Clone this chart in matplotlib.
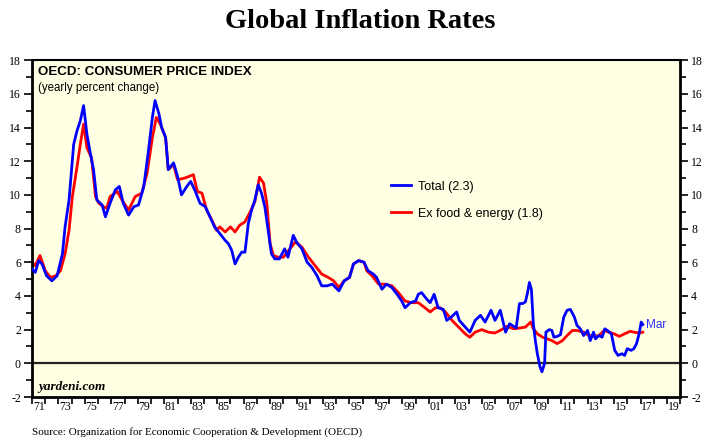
import numpy as np
import matplotlib
matplotlib.use('Agg')
import matplotlib.pyplot as plt
from matplotlib.ticker import MultipleLocator, FixedLocator, NullFormatter

plt.rcParams['axes.unicode_minus'] = False

# OECD total CPI, yearly % change
total_t = [1971.0, 1971.25, 1971.5, 1971.75, 1972.1, 1972.5, 1972.9, 1973.3, 1973.5, 1973.8,
           1974.15, 1974.4, 1974.65, 1974.9, 1975.15, 1975.4, 1975.65, 1975.9, 1976.3, 1976.55,
           1976.9, 1977.3, 1977.6, 1977.9, 1978.3, 1978.7, 1979.05, 1979.45, 1979.8, 1980.1,
           1980.3, 1980.6, 1980.8, 1981.1, 1981.3, 1981.7, 1982.0, 1982.3, 1982.7, 1983.0,
           1983.35, 1983.7, 1984.1, 1984.45, 1984.8, 1985.2, 1985.6, 1985.85, 1986.1, 1986.35,
           1986.6, 1986.85, 1987.1, 1987.35, 1987.6, 1987.85, 1988.1, 1988.35, 1988.6, 1988.85,
           1989.1, 1989.35, 1989.7, 1990.1, 1990.35, 1990.75, 1991.0, 1991.4, 1991.8, 1992.15,
           1992.55, 1992.9, 1993.3, 1993.7, 1994.2, 1994.6, 1995.0, 1995.3, 1995.7, 1996.1,
           1996.4, 1996.8, 1997.05, 1997.45, 1997.8, 1998.2, 1998.6, 1998.95, 1999.2, 1999.6,
           2000.0, 2000.2, 2000.45, 2000.85, 2001.1, 2001.4, 2001.7, 2002.1, 2002.35, 2002.7,
           2003.1, 2003.3, 2003.75, 2004.1, 2004.5, 2004.9, 2005.25, 2005.7, 2006.0, 2006.4,
           2006.8, 2007.1, 2007.6, 2007.85, 2008.1, 2008.3, 2008.45, 2008.6, 2008.75, 2008.9,
           2009.05, 2009.2, 2009.4, 2009.55, 2009.75, 2009.85, 2010.1, 2010.3, 2010.45, 2010.7,
           2010.95, 2011.2, 2011.45, 2011.7, 2012.0, 2012.2, 2012.45, 2012.7, 2013.0, 2013.2,
           2013.45, 2013.6, 2013.85, 2014.1, 2014.3, 2014.5, 2014.8, 2015.05, 2015.3, 2015.6,
           2015.8, 2016.0, 2016.3, 2016.5, 2016.7, 2016.9, 2017.05, 2017.17]
total_v = [5.6, 5.4, 6.1, 5.9, 5.2, 4.9, 5.2, 6.5, 8.1, 9.7,
           13.0, 13.8, 14.4, 15.3, 13.6, 12.5, 11.5, 9.7, 9.4, 8.7,
           9.5, 10.3, 10.5, 9.5, 8.8, 9.3, 9.4, 10.5, 12.6, 14.6,
           15.6, 14.8, 14.0, 13.4, 11.5, 11.9, 11.1, 10.0, 10.5, 10.8,
           10.2, 9.5, 9.3, 8.7, 8.1, 7.7, 7.3, 7.1, 6.7, 5.9,
           6.3, 6.6, 6.6, 8.3, 9.1, 9.7, 10.6, 10.1, 9.3, 7.9,
           6.5, 6.2, 6.2, 6.8, 6.3, 7.6, 7.2, 6.8, 6.0, 5.7,
           5.2, 4.6, 4.6, 4.7, 4.3, 4.9, 5.1, 5.9, 6.1, 6.0,
           5.5, 5.3, 5.1, 4.4, 4.7, 4.5, 4.1, 3.7, 3.3, 3.6,
           3.7, 4.1, 4.2, 3.8, 3.6, 4.1, 3.3, 3.2, 2.55, 2.75,
           3.05, 2.55, 2.15, 1.85, 2.55, 2.85, 2.45, 3.15, 2.55, 3.15,
           1.85, 2.35, 2.1, 3.55, 3.55, 3.65, 4.15, 4.8, 4.4, 2.35,
           1.35, 0.57, -0.2, -0.5, 0.0, 1.85, 2.0, 1.95, 1.55, 1.6,
           1.7, 2.75, 3.15, 3.2, 2.75, 2.25, 2.05, 1.65, 1.95, 1.35,
           1.85, 1.45, 1.65, 1.55, 2.05, 1.95, 1.75, 0.77, 0.47, 0.57,
           0.47, 0.87, 0.77, 0.87, 1.17, 1.77, 2.45, 2.3]

# OECD CPI ex food & energy
core_t = [1971.0, 1971.25, 1971.6, 1972.0, 1972.4, 1972.8, 1973.15, 1973.5, 1973.8, 1974.05,
          1974.4, 1974.65, 1974.9, 1975.15, 1975.5, 1975.8, 1976.05, 1976.4, 1976.65, 1976.9,
          1977.45, 1977.8, 1978.3, 1978.8, 1979.3, 1979.7, 1980.1, 1980.4, 1980.7, 1981.1,
          1981.3, 1981.7, 1982.0, 1982.55, 1983.2, 1983.5, 1983.85, 1984.2, 1984.6, 1984.95,
          1985.2, 1985.6, 1986.0, 1986.35, 1986.7, 1987.1, 1987.5, 1987.85, 1988.2, 1988.5,
          1988.75, 1989.0, 1989.25, 1989.6, 1990.0, 1990.4, 1990.9, 1991.4, 1991.9, 1992.4,
          1992.9, 1993.4, 1993.8, 1994.2, 1994.6, 1995.0, 1995.3, 1995.7, 1996.1, 1996.3,
          1996.7, 1997.2, 1997.7, 1998.2, 1998.7, 1999.2, 1999.7, 2000.2, 2000.7, 2001.1,
          2001.5, 2001.85, 2002.25, 2002.75, 2003.25, 2003.75, 2004.1, 2004.5, 2005.0, 2005.5,
          2006.0, 2006.5, 2006.9, 2007.4, 2007.9, 2008.3, 2008.7, 2008.9, 2009.2, 2009.6,
          2009.95, 2010.3, 2010.7, 2011.1, 2011.45, 2011.85, 2012.2, 2012.7, 2013.1, 2013.5,
          2013.85, 2014.25, 2014.6, 2015.0, 2015.4, 2015.8, 2016.2, 2016.5, 2016.9, 2017.17]
core_v = [6.0, 5.8, 6.4, 5.5, 5.1, 5.2, 5.5, 6.5, 7.9, 9.9,
          11.65, 13.0, 14.2, 12.8, 12.2, 9.9, 9.5, 9.3, 9.2, 9.9,
          10.2, 9.7, 9.1, 9.9, 10.1, 11.3, 13.4, 14.6, 14.2, 13.4,
          11.5, 11.8, 10.9, 11.0, 11.2, 10.2, 10.1, 9.1, 8.5, 7.9,
          8.1, 7.8, 8.1, 7.8, 8.2, 8.4, 9.0, 9.6, 11.05, 10.7,
          9.5, 7.1, 6.4, 6.3, 6.3, 6.7, 7.2, 6.9, 6.3, 5.8,
          5.3, 5.1, 4.9, 4.5, 4.9, 5.1, 5.9, 6.1, 6.0, 5.5,
          5.2, 4.7, 4.7, 4.6, 4.2, 3.7, 3.6, 3.6, 3.3, 3.05,
          3.3, 3.3, 3.05, 2.55, 2.15, 1.75, 1.55, 1.85, 2.0, 1.85,
          1.8, 2.0, 2.2, 2.05, 2.1, 2.15, 2.45, 2.05, 1.75, 1.55,
          1.45, 1.35, 1.17, 1.35, 1.65, 1.95, 1.95, 1.85, 1.65, 1.6,
          1.65, 1.95, 1.85, 1.75, 1.6, 1.75, 1.9, 1.85, 1.8, 1.85]

label_years = list(range(1971, 2020, 2))
legend_labels = ['Total (2.3)', 'Ex food & energy (1.8)']

SERIF = 'Liberation Serif'
SANS = 'Liberation Sans'


def draw_chart():
    fig = plt.figure(figsize=(7.21, 4.48), dpi=100)
    ax = fig.add_axes([0.0444, 0.1138, 0.899, 0.752])
    ax.set_facecolor('#ffffe3')

    ax.axhline(0, color='#222222', lw=1.6, zorder=1)
    line_total, = ax.plot(total_t, total_v, color='#0000ff', lw=2, zorder=3)
    line_core, = ax.plot(core_t, core_v, color='#ff0000', lw=2, zorder=2)

    ax.set_xlim(1971, 2020)
    ax.set_ylim(-2, 18)

    # year ticks, labels sit in the middle of each odd year
    ax.xaxis.set_major_locator(MultipleLocator(1))
    ax.xaxis.set_major_formatter(NullFormatter())
    ax.xaxis.set_minor_locator(FixedLocator([y + 0.5 for y in label_years]))
    ax.set_xticklabels([f'{y % 100:02d}' for y in label_years], minor=True)
    ax.tick_params(axis='x', which='major', direction='out', length=5, width=1.2)
    ax.tick_params(axis='x', which='minor', length=0, pad=3)

    ax.yaxis.set_major_locator(MultipleLocator(2))
    ax.yaxis.set_minor_locator(MultipleLocator(1))
    ax.tick_params(axis='y', which='both', direction='out', left=True, right=True,
                   labelleft=True, labelright=True, width=1.2)
    ax.tick_params(axis='y', which='major', length=6, pad=2)
    ax.tick_params(axis='y', which='minor', length=4)

    for lab in ax.get_xticklabels(minor=True) + ax.get_yticklabels():
        lab.set_fontfamily(SERIF)
        lab.set_fontsize(8.5)

    for side in ['left', 'right', 'bottom']:
        ax.spines[side].set_linewidth(2)
    ax.spines['top'].set_linewidth(1.5)

    # text inside the plot
    ax.text(0.009, 0.982, 'OECD: CONSUMER PRICE INDEX', transform=ax.transAxes,
            fontfamily=SANS, fontweight='bold', fontsize=9.6, va='top')
    ax.text(0.009, 0.935, '(yearly percent change)', transform=ax.transAxes,
            fontfamily=SANS, fontsize=8.3, va='top')
    ax.text(0.009, 0.012, 'yardeni.com', transform=ax.transAxes,
            fontfamily=SERIF, fontweight='bold', fontstyle='italic', fontsize=9.5, va='bottom')
    ax.text(2017.45, total_v[-1], 'Mar', color='#3030ff', fontfamily=SANS,
            fontsize=8.5, va='center')

    ax.legend([line_total, line_core], legend_labels, loc='upper left',
              bbox_to_anchor=(0.536, 0.675), frameon=False,
              prop={'family': SANS, 'size': 9},
              handlelength=1.6, labelspacing=1.2, handletextpad=0.6)

    fig.text(0.5, 0.953, 'Global Inflation Rates', ha='center', va='center',
             fontfamily=SERIF, fontweight='bold', fontsize=20.5)
    fig.text(0.044, 0.035, 'Source: Organization for Economic Cooperation & Development (OECD)',
             fontfamily=SERIF, fontsize=8, va='center')

    fig.savefig('out.png', dpi=100)


if __name__ == '__main__':
    draw_chart()
